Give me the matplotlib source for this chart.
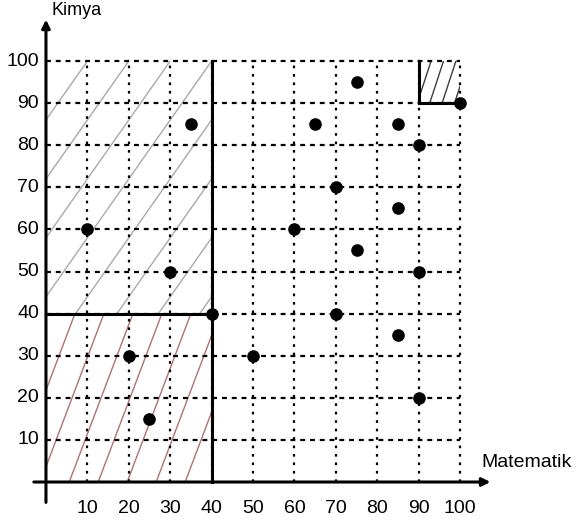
import numpy as np
import matplotlib
matplotlib.use('Agg')
import matplotlib.pyplot as plt
from matplotlib.patches import Rectangle

plt.rcParams['font.family'] = ['Liberation Sans', 'DejaVu Sans']

# data
matematik = [10, 35, 30, 20, 25, 40, 50, 60, 65, 75, 70, 75, 70, 85, 90, 85, 90, 85, 90, 100]
kimya = [60, 85, 50, 30, 15, 40, 30, 60, 85, 95, 70, 55, 40, 85, 80, 65, 50, 35, 20, 90]
ticks = [10, 20, 30, 40, 50, 60, 70, 80, 90, 100]

# shaded regions (x0, x1, y0, y1) and the limits drawn by hand
regions = [(0, 40, 40, 100), (0, 40, 0, 40), (90, 100, 90, 100)]
region_colors = ['#9a9a9a', '#a0585e', '#1a1a1a']
x_limit = 40
y_limit = 40

fig = plt.figure(figsize=(5.76, 5.26), dpi=100)
ax = fig.add_axes([0, 0, 1, 1])
ax.set_xlim(-11.1, 128)
ax.set_ylim(-10.45, 114.5)
ax.axis('off')


def hatch_region(ax, reg, color, slope, step):
    x0, x1, y0, y1 = reg
    clip = Rectangle((x0, y0), x1 - x0, y1 - y0, fill=False, lw=0)
    ax.add_patch(clip)
    h = y1 - y0
    for s in np.arange(x0 - h / slope, x1 + step, step):
        line, = ax.plot([s, s + h / slope], [y0, y1], color=color, lw=1.0, alpha=0.85)
        line.set_clip_path(clip)


hatch_region(ax, regions[0], region_colors[0], 1.4, 10)
hatch_region(ax, regions[1], region_colors[1], 2.6, 7)
hatch_region(ax, regions[2], region_colors[2], 3.0, 3)

# grid
ax.vlines(ticks, 0, 100, colors='black', linestyles=(0, (1.2, 2.6)), lw=1.6)
ax.hlines(ticks, 0, 100, colors='black', linestyles=(0, (2.2, 2.2)), lw=1.6)

# hand drawn limits
ax.plot([x_limit, x_limit], [0, 100], color='black', lw=2.2)
ax.plot([0, x_limit], [y_limit, y_limit], color='black', lw=2.2)
ax.plot([90, 90], [90, 100], color='black', lw=2.2)
ax.plot([90, 100], [90, 90], color='black', lw=2.2)

# axes with arrows
ax.annotate('', xy=(108, 0), xytext=(-3.6, 0),
            arrowprops=dict(arrowstyle='-|>', color='black', lw=2.2, mutation_scale=12))
ax.annotate('', xy=(0, 110.5), xytext=(0, -5.5),
            arrowprops=dict(arrowstyle='-|>', color='black', lw=2.2, mutation_scale=12))

ax.scatter(matematik, kimya, s=65, color='black', zorder=5)

for t in ticks:
    ax.text(t, -6.2, str(t), ha='center', va='center', fontsize=14)
    ax.text(-1.7, t, str(t), ha='right', va='center', fontsize=14)

ax.text(1.3, 112, 'Kimya', ha='left', va='center', fontsize=13)
ax.text(105.2, 4.6, 'Matematik', ha='left', va='center', fontsize=14)

fig.savefig('out.png', dpi=100)
